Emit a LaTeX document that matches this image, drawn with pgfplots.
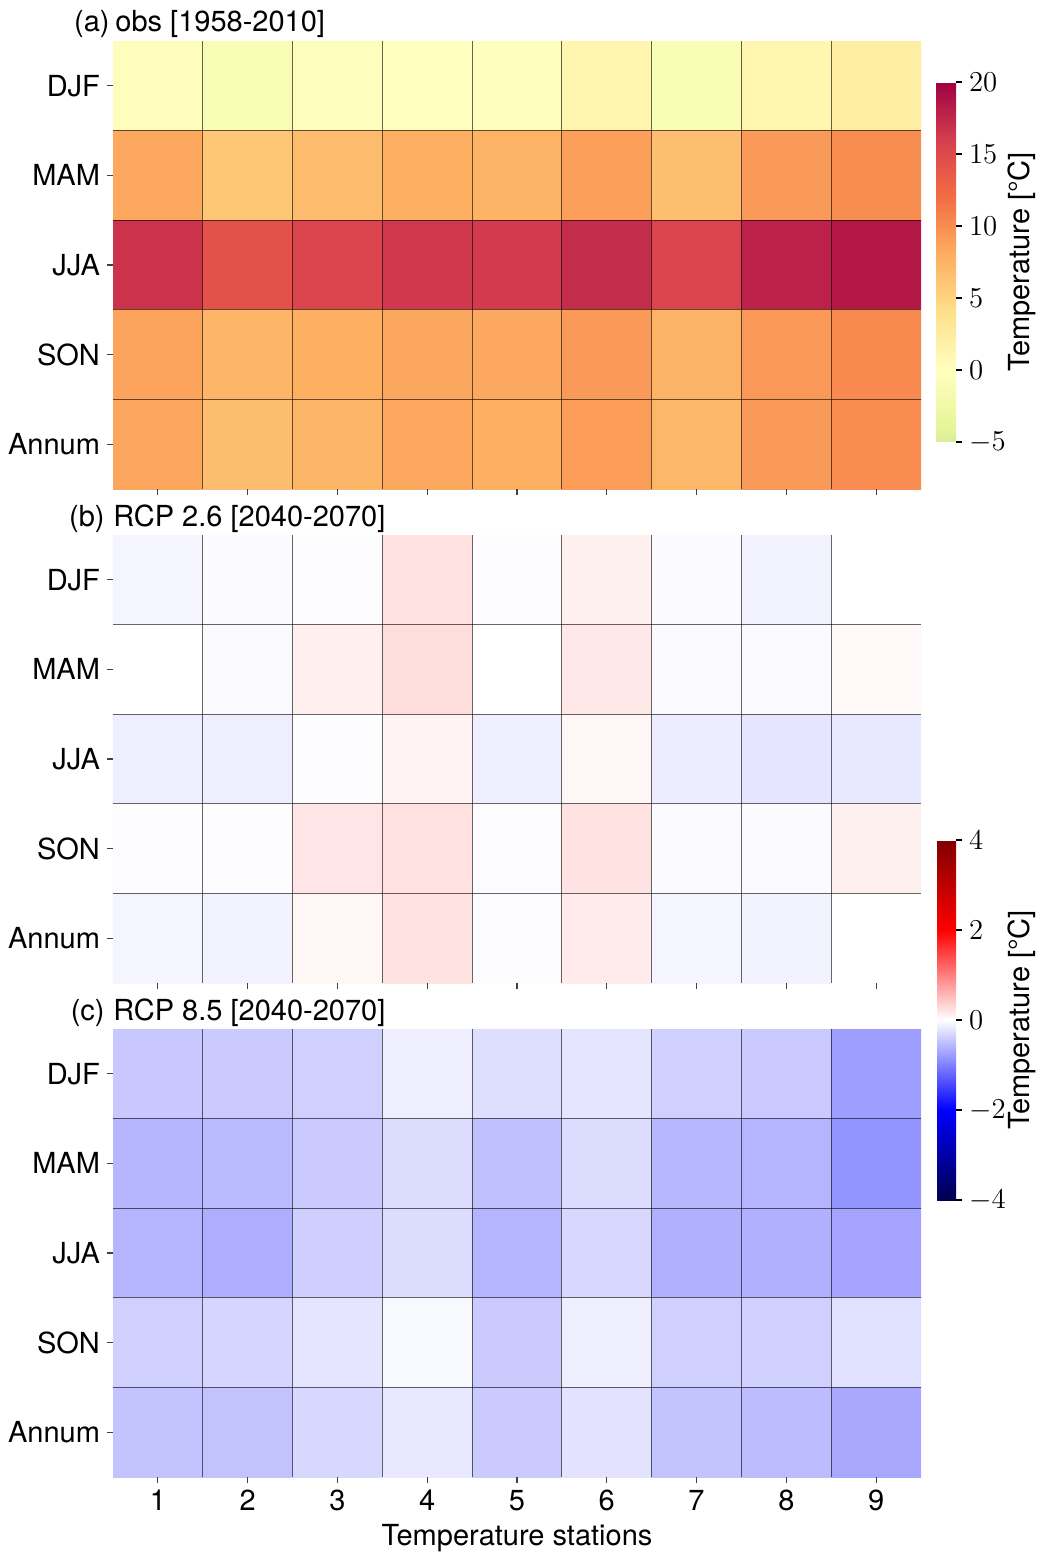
\documentclass[border=0pt]{standalone}
\usepackage{fontspec}
\setmainfont{TeX Gyre Heros}
\usepackage{pgfplots}
\usepackage{pgfplotstable}
\pgfplotsset{compat=1.18}

\pgfplotstableread{
x y c
1 0 0.3
2 0 -1.0
3 0 -0.3
4 0 0.0
5 0 -0.1
6 0 1.3
7 0 -0.9
8 0 1.2
9 0 2.2
1 1 8.3
2 1 6.0
3 1 6.9
4 1 7.9
5 1 7.6
6 1 8.9
7 1 6.7
8 1 9.2
9 1 10.0
1 2 16.7
2 2 14.3
3 2 15.4
4 2 16.4
5 2 16.2
6 2 17.2
7 2 15.4
8 2 17.9
9 2 18.5
1 3 8.6
2 3 7.4
3 3 7.9
4 3 8.4
5 3 8.3
6 3 9.2
7 3 7.6
8 3 9.3
9 3 10.2
1 4 8.5
2 4 6.8
3 4 7.4
4 4 8.3
5 4 7.9
6 4 9.1
7 4 7.3
8 4 9.2
9 4 10.1
}\obsdata

\pgfplotstableread{
x y c
1 0 -0.08
2 0 -0.04
3 0 -0.01
4 0 0.24
5 0 -0.01
6 0 0.12
7 0 -0.04
8 0 -0.10
9 0 0.00
1 1 0.00
2 1 -0.04
3 1 0.13
4 1 0.27
5 1 0.00
6 1 0.18
7 1 -0.04
8 1 -0.04
9 1 0.05
1 2 -0.13
2 2 -0.13
3 2 -0.01
4 2 0.10
5 2 -0.12
6 2 0.07
7 2 -0.14
8 2 -0.20
9 2 -0.18
1 3 -0.01
2 3 -0.01
3 3 0.21
4 3 0.24
5 3 -0.02
6 3 0.23
7 3 -0.04
8 3 -0.04
9 3 0.12
1 4 -0.08
2 4 -0.09
3 4 0.07
4 4 0.22
5 4 -0.02
6 4 0.16
7 4 -0.08
8 4 -0.09
9 4 0.00
}\rcpa

\pgfplotstableread{
x y c
1 0 -0.43
2 0 -0.41
3 0 -0.37
4 0 -0.12
5 0 -0.26
6 0 -0.20
7 0 -0.37
8 0 -0.42
9 0 -0.76
1 1 -0.57
2 1 -0.54
3 1 -0.41
4 1 -0.27
5 1 -0.49
6 1 -0.27
7 1 -0.56
8 1 -0.59
9 1 -0.84
1 2 -0.59
2 2 -0.63
3 2 -0.38
4 2 -0.27
5 2 -0.59
6 2 -0.30
7 2 -0.62
8 2 -0.62
9 2 -0.71
1 3 -0.37
2 3 -0.33
3 3 -0.20
4 3 -0.05
5 3 -0.41
6 3 -0.12
7 3 -0.37
8 3 -0.37
9 3 -0.24
1 4 -0.47
2 4 -0.48
3 4 -0.30
4 4 -0.18
5 4 -0.41
6 4 -0.22
7 4 -0.47
8 4 -0.52
9 4 -0.68
}\rcpb

\tikzset{ttl/.style={inner sep=0pt, font=\fontsize{14.5}{17}\selectfont}}

\pgfplotsset{
  /pgfplots/colormap={spectralr}{rgb255(0)=(216,238,156) rgb255(1)=(230,245,152) rgb255(5)=(255,255,191) rgb255(9)=(254,224,139) rgb255(13)=(253,174,97) rgb255(17)=(244,109,67) rgb255(21)=(213,62,79) rgb255(25)=(158,1,66)},
  /pgfplots/colormap={seismic}{rgb(0)=(0,0,0.3) rgb(2)=(0,0,1) rgb(4)=(1,1,1) rgb(6)=(1,0,0) rgb(8)=(0.5,0,0)},
  hm/.style={
    scale only axis, width=404pt, height=224pt,
    anchor=north west,
    xmin=0.5, xmax=9.5, ymin=-0.5, ymax=4.5, y dir=reverse,
    enlargelimits=false,
    xtick={1,...,9}, ytick={0,...,4},
    yticklabels={DJF,MAM,JJA,SON,Annum},
    tick pos=left, tick align=outside, major tick length=3pt,
    tick style={black!75, line width=0.6pt},
    minor xtick={1.5,2.5,...,8.5}, minor ytick={0.5,1.5,2.5,3.5},
    minor tick length=0pt,
    xminorgrids, yminorgrids,
    minor grid style={black, opacity=0.6, line width=0.5pt},
    axis line style={draw=none},
    axis on top,
    tick label style={font=\fontsize{14.5}{17}\selectfont},
    label style={font=\fontsize{14.5}{17}\selectfont},
  },
  cb/.style={
    colorbar style={
      at={(parent axis.north east)}, anchor=north west,
      scale only axis,
      axis line style={draw=none},
      ytick pos=right, yticklabel pos=right,
      tick align=outside, major tick length=3pt,
      tick style={black, line width=0.6pt},
      ylabel={Temperature [°C]},
      every axis y label/.style={at={(rel axis cs:1,0.5)}, rotate=90, anchor=center, yshift=-33pt,
        font=\fontsize{14.5}{17}\selectfont},
      yticklabel style={font=\fontsize{14.5}{17}\selectfont},
    },
  },
}

\begin{document}
\begin{tikzpicture}
\path[use as bounding box] (0,0) rectangle (520.5pt,-781pt);

% (a)
\begin{axis}[hm, name=A, at={(56.5pt,-20.5pt)},
  xticklabels={},
  colormap name=spectralr, point meta min=-5, point meta max=20,
  colorbar, cb,
  colorbar style={xshift=-1pt, yshift=-20.5pt, width=10pt, height=180pt,
    ytick={-5,0,5,10,15,20}},
]
\addplot[matrix plot*, mesh/cols=9, point meta=explicit] table[x=x, y=y, meta=c] {\obsdata};
\end{axis}
\node[ttl, anchor=base west] at ([xshift=1pt, yshift=4.5pt]A.north west) {obs [1958-2010]};
\node[ttl, anchor=base east] at ([xshift=-1.5pt, yshift=4.5pt]A.north west) {(a)};

% (b)
\begin{axis}[hm, name=B, at={(56.5pt,-267.5pt)},
  xticklabels={},
  colormap name=seismic, point meta min=-4, point meta max=4,
  colorbar, cb,
  colorbar style={xshift=-0.5pt, yshift=-152.5pt, width=9.5pt, height=180pt,
    ytick={-4,-2,0,2,4}},
]
\addplot[matrix plot*, mesh/cols=9, point meta=explicit] table[x=x, y=y, meta=c] {\rcpa};
\end{axis}
\node[ttl, anchor=base west] at ([xshift=0pt, yshift=4.5pt]B.north west) {RCP 2.6 [2040-2070]};
\node[ttl, anchor=base east] at ([xshift=-4pt, yshift=4.5pt]B.north west) {(b)};

% (c)
\begin{axis}[hm, name=C, at={(56.5pt,-514.5pt)},
  xticklabels={1,2,3,4,5,6,7,8,9},
  xlabel={Temperature stations},
  colormap name=seismic, point meta min=-4, point meta max=4,
]
\addplot[matrix plot*, mesh/cols=9, point meta=explicit] table[x=x, y=y, meta=c] {\rcpb};
\end{axis}
\node[ttl, anchor=base west] at ([xshift=0pt, yshift=4.5pt]C.north west) {RCP 8.5 [2040-2070]};
\node[ttl, anchor=base east] at ([xshift=-4pt, yshift=4.5pt]C.north west) {(c)};
\end{tikzpicture}
\end{document}
